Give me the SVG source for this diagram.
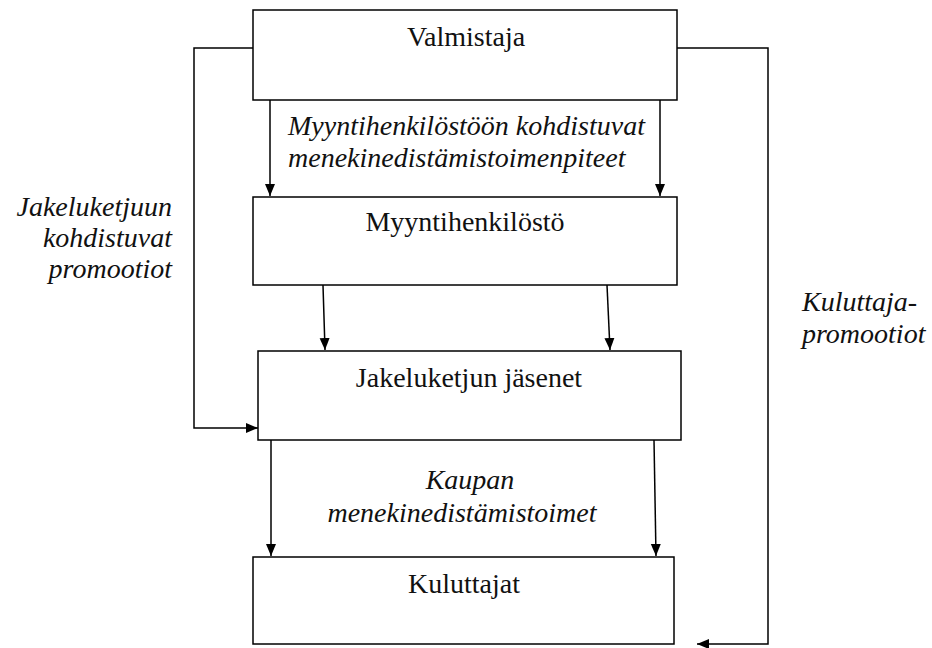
<svg xmlns="http://www.w3.org/2000/svg" width="932" height="648" viewBox="0 0 932 648">
<style>
.box{fill:#fff;stroke:#000;stroke-width:1.5}
text{font-family:'Liberation Serif','Times New Roman','DejaVu Serif',serif;fill:#111}
.t{font-size:28px;text-anchor:middle}
.i{font-size:28px;font-style:italic}
.c{fill:none;stroke:#000;stroke-width:1.5}
</style>
<defs>
<marker id="ah" markerWidth="12" markerHeight="12" refX="12" refY="6" orient="auto" markerUnits="userSpaceOnUse">
<path d="M0,1 L12,6 L0,11 Z" fill="#000"/>
</marker>
</defs>
<rect width="932" height="648" fill="#fff"/>
<g id="connectors">
<line class="c" x1="270" y1="100" x2="270" y2="196" marker-end="url(#ah)"/>
<line class="c" x1="660" y1="100" x2="660" y2="196" marker-end="url(#ah)"/>
<line class="c" x1="323" y1="285" x2="325" y2="350" marker-end="url(#ah)"/>
<line class="c" x1="607" y1="285" x2="610" y2="350" marker-end="url(#ah)"/>
<line class="c" x1="271" y1="440" x2="271" y2="556" marker-end="url(#ah)"/>
<line class="c" x1="654" y1="440" x2="656" y2="556" marker-end="url(#ah)"/>
<polyline class="c" points="253,48 194,48 194,428 258,428" marker-end="url(#ah)"/>
<polyline class="c" points="677,48 768,48 768,644 697,644" marker-end="url(#ah)"/>
<text class="i" x="288" y="135">Myyntihenkilöstöön kohdistuvat</text>
<text class="i" x="288" y="167">menekinedistämistoimenpiteet</text>
<text class="i" text-anchor="middle" x="470" y="489">Kaupan</text>
<text class="i" text-anchor="middle" x="462" y="522">menekinedistämistoimet</text>
<text class="i" text-anchor="end" x="172" y="216">Jakeluketjuun</text>
<text class="i" text-anchor="end" x="172" y="247">kohdistuvat</text>
<text class="i" text-anchor="end" x="172" y="278">promootiot</text>
<text class="i" x="802" y="311">Kuluttaja-</text>
<text class="i" x="802" y="343">promootiot</text>
</g>
<g id="valmistaja">
<rect class="box" x="253" y="10" width="424" height="90"/>
<text class="t" x="466" y="46">Valmistaja</text>
</g>
<g id="myyntihenkilosto">
<rect class="box" x="253" y="197" width="424" height="88"/>
<text class="t" x="465" y="231">Myyntihenkilöstö</text>
</g>
<g id="jakeluketjun">
<rect class="box" x="258" y="351" width="423" height="89"/>
<text class="t" x="469" y="387">Jakeluketjun jäsenet</text>
</g>
<g id="kuluttajat">
<rect class="box" x="253" y="557" width="421" height="87"/>
<text class="t" x="464" y="593">Kuluttajat</text>
</g>
</svg>
